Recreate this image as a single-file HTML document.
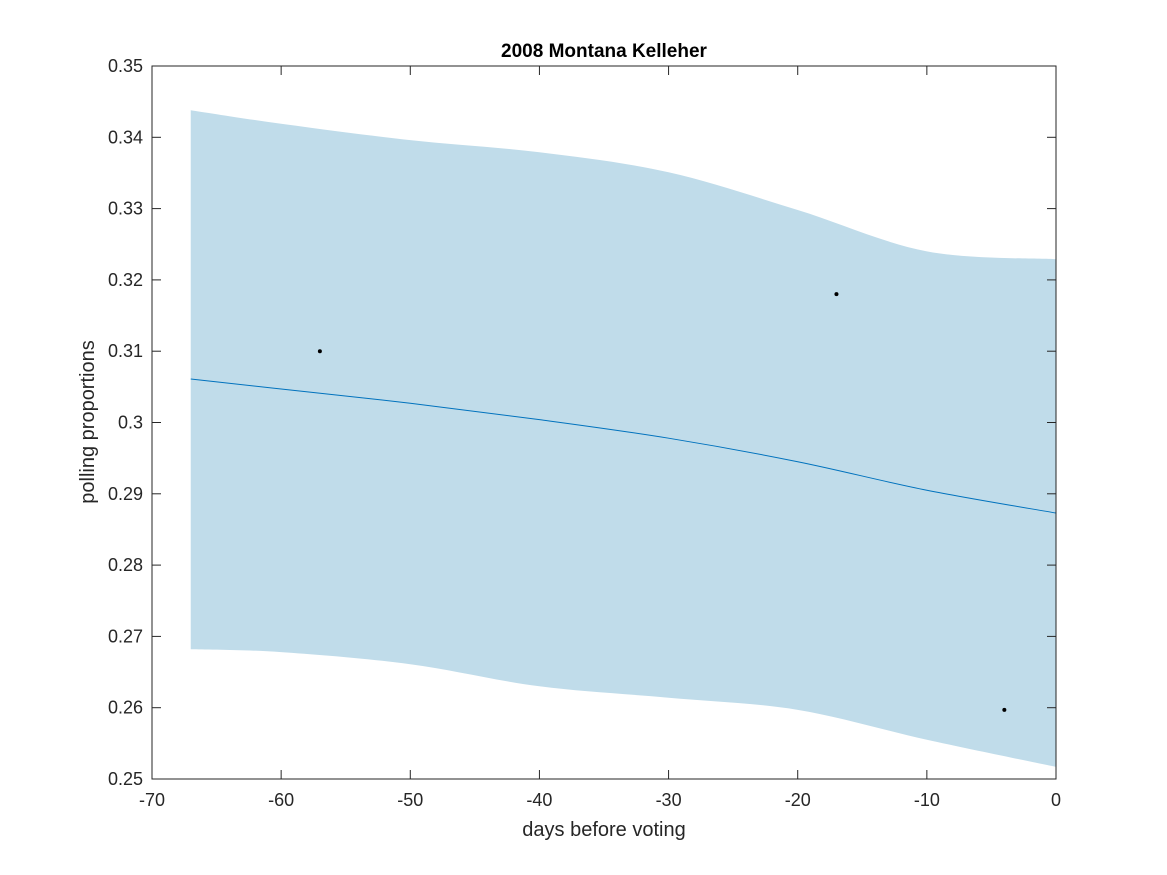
<!DOCTYPE html>
<html><head><meta charset="utf-8"><style>
body{margin:0;background:#fff;}
svg{display:block;font-family:"Liberation Sans",Arial,sans-serif;}
</style></head><body>
<svg id="chart" width="1167" height="875" xmlns="http://www.w3.org/2000/svg">
<rect width="1167" height="875" fill="#fff"/>
<g id="plot"></g>
</svg>
<script>
const days = [-67,-60,-50,-40,-30,-20,-10,0];
const upper = [0.3438,0.3419,0.3396,0.3379,0.3351,0.3298,0.3240,0.3229];
const lower = [0.2682,0.2678,0.2661,0.2630,0.2614,0.2597,0.2555,0.2517];
const mean = [0.3061,0.3047,0.3027,0.3004,0.2978,0.2945,0.2905,0.2873];
const pollDays = [-57,-17,-4];
const pollValues = [0.310,0.318,0.2597];
const xTicks = [-70,-60,-50,-40,-30,-20,-10,0];
const yTicks = [0.25,0.26,0.27,0.28,0.29,0.3,0.31,0.32,0.33,0.34,0.35];

const L=152,R=1056,T=66,B=779;
const sx=d=>L+(d+70)/70*(R-L);
const sy=v=>B-(v-0.25)/0.1*(B-T);
const NS="http://www.w3.org/2000/svg";
const g=document.getElementById('plot');
function mk(tag,attrs,parent){const e=document.createElementNS(NS,tag);for(const k in attrs)e.setAttribute(k,attrs[k]);(parent||g).appendChild(e);return e;}
function smooth(xs,ys){
  const p=xs.map((x,i)=>[sx(x),sy(ys[i])]);
  let d=`M${p[0][0]},${p[0][1]}`;
  for(let i=0;i<p.length-1;i++){const p0=p[i-1]||p[i],p1=p[i],p2=p[i+1],p3=p[i+2]||p2;
    d+=` C${p1[0]+(p2[0]-p0[0])/6},${p1[1]+(p2[1]-p0[1])/6} ${p2[0]-(p3[0]-p1[0])/6},${p2[1]-(p3[1]-p1[1])/6} ${p2[0]},${p2[1]}`;}
  return d;}
const up=smooth(days,upper);
const lowRev=smooth(days.slice().reverse(),lower.slice().reverse());
const band=mk('path',{d:up+' L'+lowRev.slice(1)+' Z',fill:'#c0dcea'});


const line=mk('path',{d:smooth(days,mean),fill:'none',stroke:'#0072bd','stroke-width':1});


pollDays.forEach((d,i)=>{const c=mk('circle',{cx:sx(d),cy:sy(pollValues[i]),r:2,fill:'#000'});

});
mk('rect',{x:L,y:T,width:R-L,height:B-T,fill:'none',stroke:'#262626','stroke-width':1});
xTicks.forEach(t=>{const x=sx(t);
mk('line',{x1:x,y1:B,x2:x,y2:B-9,stroke:'#262626'});mk('line',{x1:x,y1:T,x2:x,y2:T+9,stroke:'#262626'});
const tx=mk('text',{x:x,y:B+27,'text-anchor':'middle','font-size':18,fill:'#262626'});tx.textContent=t;

});
yTicks.forEach(t=>{const y=sy(t);
mk('line',{x1:L,y1:y,x2:L+9,y2:y,stroke:'#262626'});mk('line',{x1:R,y1:y,x2:R-9,y2:y,stroke:'#262626'});
const tx=mk('text',{x:L-9,y:y+6,'text-anchor':'end','font-size':18,fill:'#262626'});tx.textContent=String(t);

});
</script>
<svg style="position:absolute;left:0;top:0" width="1167" height="875" xmlns="http://www.w3.org/2000/svg" font-family="Liberation Sans, Arial, sans-serif">
<text x="604" y="57" text-anchor="middle" font-size="19" font-weight="bold" fill="#000">2008 Montana Kelleher</text>
<text x="604" y="836" text-anchor="middle" font-size="20" fill="#262626">days before voting</text>
<text x="0" y="0" transform="translate(94,422) rotate(-90)" text-anchor="middle" font-size="20" fill="#262626">polling proportions</text>
</svg>
</body></html>
